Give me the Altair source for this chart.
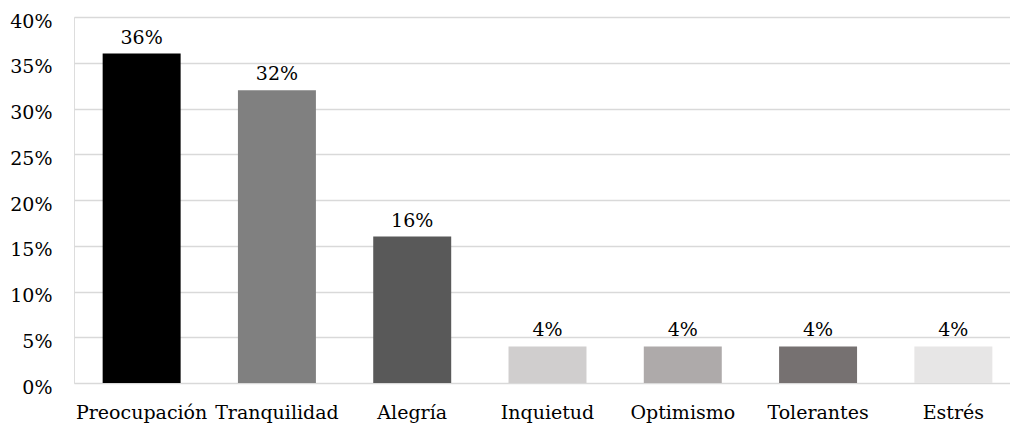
import altair as alt
import pandas as pd

# Emotions reported and their share of responses
categorias = ["Preocupación", "Tranquilidad", "Alegría", "Inquietud",
              "Optimismo", "Tolerantes", "Estrés"]
porcentajes = [0.36, 0.32, 0.16, 0.04, 0.04, 0.04, 0.04]
colores = ["#000000", "#808080", "#595959", "#d0cece",
           "#aeaaaa", "#767171", "#e7e6e6"]
marcas_y = [0, 0.05, 0.10, 0.15, 0.20, 0.25, 0.30, 0.35, 0.40]

df = pd.DataFrame({"categoria": categorias, "valor": porcentajes})

FONT = "DejaVu Serif"
SIZE = 19

x = alt.X(
    "categoria:N",
    sort=categorias,
    title=None,
    scale=alt.Scale(range=[0, 947], paddingInner=0.4236, paddingOuter=0.2118),
    axis=alt.Axis(labelAngle=0, ticks=False, domain=False,
                  labelFont=FONT, labelFontSize=SIZE, labelColor="#000000",
                  labelPadding=20, labelOverlap=False),
)
y = alt.Y(
    "valor:Q",
    title=None,
    scale=alt.Scale(domain=[0, 0.40]),
    axis=alt.Axis(format=".0%", values=marcas_y,
                  ticks=False, domain=False, gridColor="#d9d9d9",
                  gridWidth=1.3, labelFont=FONT, labelFontSize=SIZE,
                  labelColor="#000000", labelPadding=22, labelOffset=4),
)

bars = alt.Chart(df).mark_bar().encode(
    x=x,
    y=y,
    color=alt.Color("categoria:N", sort=categorias,
                    scale=alt.Scale(domain=categorias, range=colores),
                    legend=None),
)

labels = alt.Chart(df).mark_text(
    baseline="alphabetic", dy=-10, font=FONT, fontSize=SIZE, color="#000000"
).encode(
    x=alt.X("categoria:N", sort=categorias),
    y="valor:Q",
    text=alt.Text("valor:Q", format=".0%"),
)

chart = (
    alt.layer(bars, labels)
    .properties(
        width=936,
        height=366,
        autosize=alt.AutoSizeParams(type="none"),
        padding={"left": 74, "top": 17, "right": 0, "bottom": 43},
    )
    .configure_view(stroke=None)
    .configure(background="#ffffff")
)

chart.save("out.html", embed_options={"renderer": "svg", "actions": False})
